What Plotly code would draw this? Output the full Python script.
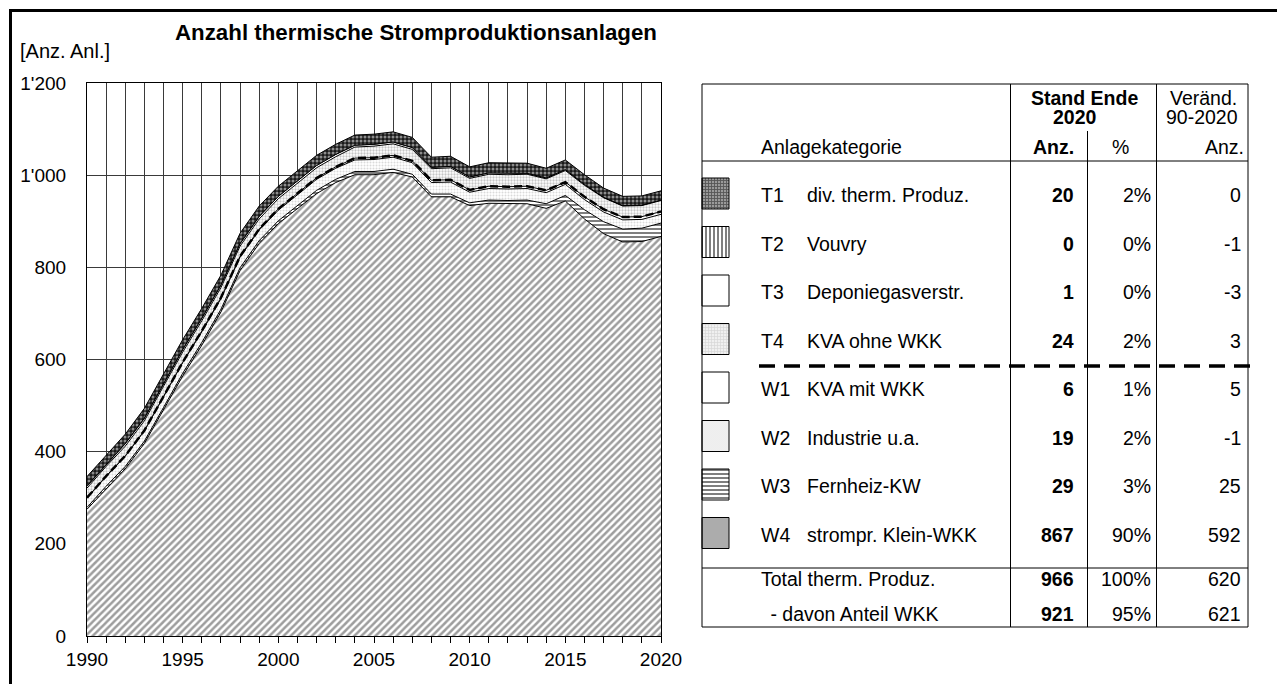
import plotly.graph_objects as go

# ---------------- data ----------------
years = list(range(1990, 2021))
W4 = [275, 320, 363, 418, 491, 564, 631, 703, 793, 852, 895, 928, 960, 984, 1001, 1001,
      1006, 996, 953, 953, 934, 939, 938, 938, 928, 944, 905, 873, 855, 856, 867]
W3 = [4, 5, 5, 5, 5, 6, 6, 6, 6, 6, 6, 6, 7, 7, 7, 7, 7, 6, 6, 6, 6, 7, 7, 8, 10, 12, 20, 26, 28, 29, 29]
W2 = [20, 21, 22, 22, 23, 23, 23, 23, 23, 23, 23, 24, 24, 24, 25, 26, 26, 25, 25, 26, 23, 25, 25, 25,
      24, 24, 22, 21, 20, 19, 19]
W1 = [1, 1, 1, 1, 1, 1, 2, 2, 2, 2, 3, 3, 3, 3, 4, 4, 4, 4, 5, 5, 5, 5, 5, 5, 5, 5, 6, 6, 6, 6, 6]
T4 = [21, 21, 21, 21, 22, 22, 22, 22, 22, 22, 22, 22, 22, 22, 24, 25, 25, 25, 25, 26, 25, 26, 26, 26,
      25, 25, 25, 25, 24, 24, 24]
T3 = [4, 4, 5, 5, 5, 5, 5, 5, 5, 5, 5, 5, 5, 5, 4, 4, 4, 4, 3, 3, 3, 3, 3, 2, 2, 2, 2, 1, 1, 1, 1]
T2 = [1, 1, 1, 1, 1, 1, 1, 1, 1, 1, 0, 0, 0, 0, 0, 0, 0, 0, 0, 0, 0, 0, 0, 0, 0, 0, 0, 0, 0, 0, 0]
T1 = [20, 20, 20, 21, 21, 21, 21, 21, 22, 22, 22, 22, 22, 22, 22, 22, 22, 22, 22, 22, 22, 22, 22, 22,
      21, 21, 21, 20, 20, 20, 20]

codes = ["T1", "T2", "T3", "T4", "W1", "W2", "W3", "W4"]
names = ["div. therm. Produz.", "Vouvry", "Deponiegasverstr.", "KVA ohne WKK",
         "KVA mit WKK", "Industrie u.a.", "Fernheiz-KW", "strompr. Klein-WKK"]
series = [T1, T2, T3, T4, W1, W2, W3, W4]
wkk_series = [W1, W2, W3, W4]

y_tickvals = [0, 200, 400, 600, 800, 1000, 1200]
y_ticktext = ["0", "200", "400", "600", "800", "1'000", "1'200"]
x_tickvals = [1990, 1995, 2000, 2005, 2010, 2015, 2020]

title_text = "Anzahl thermische Stromproduktionsanlagen"
unit_text = "[Anz. Anl.]"

# ---------------- styles ----------------
FONT = "Arial, Liberation Sans, sans-serif"
W, H = 1285, 684
OFF = 8  # page body margin
styles = {
    "T1": dict(shape=".", fgcolor="white", bgcolor="#1a1a1a", size=4, solidity=0.45),
    "T2": dict(shape="|", fgcolor="black", bgcolor="white", size=4, solidity=0.5),
    "T3": None,
    "T4": dict(shape=".", fgcolor="#8c8c8c", bgcolor="white", size=3, solidity=0.45),
    "W1": None,
    "W2": dict(shape=".", fgcolor="#b5b5b5", bgcolor="white", size=3, solidity=0.35),
    "W3": dict(shape="-", fgcolor="black", bgcolor="white", size=4, solidity=0.5),
    "W4": dict(shape="/", fgcolor="#3c3c3c", bgcolor="white", size=5, solidity=0.5),
}
swatch_styles = dict(styles)
swatch_styles["T1"] = dict(shape="+", fgcolor="#111111", bgcolor="#9a9a9a", size=3, solidity=0.5)
swatch_styles["T4"] = dict(shape="+", fgcolor="#bdbdbd", bgcolor="#f0f0f0", size=3, solidity=0.4)
swatch_styles["W2"] = dict(shape=".", fgcolor="#c8c8c8", bgcolor="#f7f7f7", size=2, solidity=0.4)
swatch_styles["W4"] = dict(shape=".", fgcolor="#555555", bgcolor="#c4c4c4", size=2, solidity=0.5)


def px(x):
    return (x - OFF) / W


def py(y):
    return 1 - (y - OFF) / H


fig = go.Figure()

# stacked areas, bottom first
for code, vals in reversed(list(zip(codes, series))):
    st = styles[code]
    kw = dict(fillcolor="white")
    if st:
        kw = dict(fillpattern=st, fillcolor=st["bgcolor"])
    fig.add_trace(go.Scatter(x=years, y=vals, mode="lines", stackgroup="one", name=code,
                             line=dict(color="black", width=1), showlegend=False, **kw))

wkk_total = [sum(v) for v in zip(*wkk_series)]
fig.add_trace(go.Scatter(x=years, y=wkk_total, mode="lines", showlegend=False,
                         line=dict(color="black", width=2.5, dash="8px,4px")))

grid_col = "#3a3a3a"
fig.update_layout(
    width=W, height=H, margin=dict(l=0, r=0, t=0, b=0, autoexpand=False),
    paper_bgcolor="white", plot_bgcolor="rgba(0,0,0,0)",
    font=dict(family=FONT, color="black", size=19),
    xaxis=dict(domain=[px(87), px(661)], range=[1990, 2020], tickvals=x_tickvals,
               showgrid=True, gridcolor=grid_col, gridwidth=1, automargin=False,
               ticks="outside", ticklen=6, tickcolor="black",
               minor=dict(dtick=1, ticks="outside", ticklen=6, tickcolor="black",
                          showgrid=True, gridcolor=grid_col, gridwidth=1),
               showline=True, linecolor="black", linewidth=1, mirror=True,
               zeroline=False, fixedrange=True, tickfont=dict(size=19)),
    yaxis=dict(domain=[py(636), py(83)], range=[0, 1200], tickvals=y_tickvals,
               ticktext=y_ticktext, showgrid=True, gridcolor=grid_col, gridwidth=1,
               ticks="", ticklabelstandoff=16, automargin=False,
               showline=True, linecolor="black", linewidth=1, mirror=True,
               zeroline=False, fixedrange=True, tickfont=dict(size=19)),
    xaxis2=dict(domain=[0, 1], range=[OFF, W + OFF], visible=False, fixedrange=True, automargin=False),
    yaxis2=dict(domain=[0, 1], range=[H + OFF, OFF], visible=False, fixedrange=True, automargin=False),
)

# ---------------- table / legend ----------------
tbl_l, tbl_r, tbl_t, tbl_b = 702, 1248, 84, 627
c1, c2, c3 = 1010.5, 1087.5, 1156.5
row_y = [195, 243.5, 292, 340.5, 389, 437.5, 486, 534.5]
tot_y, wkk_y = 579, 614
shapes = []


def line(x0, y0, x1, y1, width=1, dash=None):
    d = dict(type="line", xref="paper", yref="paper", x0=px(x0), y0=py(y0), x1=px(x1), y1=py(y1),
             line=dict(color="black", width=width))
    if dash:
        d["line"]["dash"] = dash
    shapes.append(d)


# outer frame
shapes.append(dict(type="rect", xref="paper", yref="paper", x0=px(10.5), y0=py(10.5),
                   x1=px(1280.5), y1=py(700), line=dict(color="black", width=3)))
# table
shapes.append(dict(type="rect", xref="paper", yref="paper", x0=px(tbl_l), y0=py(tbl_t),
                   x1=px(tbl_r), y1=py(tbl_b), line=dict(color="black", width=1)))
line(c1, tbl_t, c1, tbl_b)
line(c3, tbl_t, c3, tbl_b)
line(c2, 131, c2, tbl_b)
line(tbl_l, 161, tbl_r, 161)
line(tbl_l, 568, tbl_r, 568)
line(759, 366, 1250, 366, width=3.5, dash="16px,9px")

ann = []


def txt(x, y, s, anchor="left", bold=False, size=19.5):
    ann.append(dict(x=px(x), y=py(y), xref="paper", yref="paper", text=f"<b>{s}</b>" if bold else s,
                    showarrow=False, xanchor=anchor, yanchor="middle", borderpad=0,
                    font=dict(family=FONT, size=size, color="black")))


txt(174, 32, title_text, bold=True, size=22.3)
txt(19, 51, unit_text, size=20)

txt(1084, 98, "Stand Ende", "center", bold=True)
txt(1075, 117, "2020", "center", bold=True)
txt(1203, 98, "Veränd.", "center")
txt(1202, 117, "90-2020", "center")
txt(760, 147, "Anlagekategorie")
txt(1075, 147, "Anz.", "right", bold=True)
txt(1120, 147, "%", "center")
txt(1245, 147, "Anz.", "right")

total_now = sum(s[-1] for s in series)
total_first = sum(s[0] for s in series)
wkk_now = sum(s[-1] for s in wkk_series)
wkk_first = sum(s[0] for s in wkk_series)

for i, (code, name, vals) in enumerate(zip(codes, names, series)):
    y = row_y[i]
    txt(760, y, code)
    txt(806, y, name)
    txt(1075, y, str(vals[-1]), "right", bold=True)
    txt(1152, y, f"{round(100 * vals[-1] / total_now)}%", "right")
    txt(1242, y, str(vals[-1] - vals[0]), "right")
    # swatch
    x0, x1, y0, y1 = 702, 729, y - 17, y + 14
    st = swatch_styles[code]
    kw = dict(fillcolor="white")
    if st:
        kw = dict(fillpattern=st, fillcolor=st["bgcolor"])
    fig.add_trace(go.Scatter(x=[x0, x1, x1, x0, x0], y=[y0, y0, y1, y1, y0], xaxis="x2", yaxis="y2",
                             mode="lines", fill="toself", line=dict(color="black", width=1),
                             showlegend=False, hoverinfo="skip", **kw))

txt(760, tot_y, "Total therm. Produz.")
txt(1075, tot_y, str(total_now), "right", bold=True)
txt(1152, tot_y, "100%", "right")
txt(1242, tot_y, str(total_now - total_first), "right")
txt(764, wkk_y, " - davon Anteil WKK")
txt(1075, wkk_y, str(wkk_now), "right", bold=True)
txt(1152, wkk_y, f"{round(100 * wkk_now / total_now)}%", "right")
txt(1242, wkk_y, str(wkk_now - wkk_first), "right")

fig.update_layout(shapes=shapes, annotations=ann)
fig.write_html("out.html")
